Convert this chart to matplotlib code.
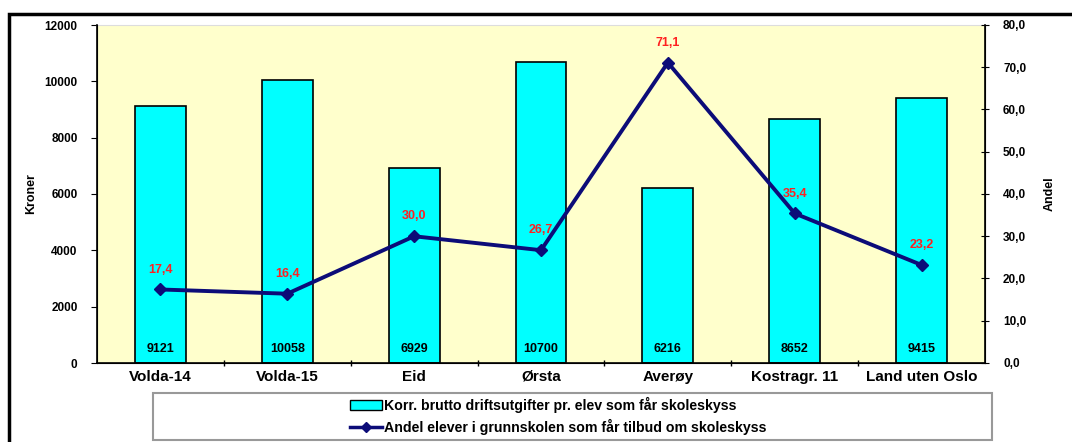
import matplotlib.pyplot as plt
from matplotlib.lines import Line2D
from matplotlib.patches import Patch, Rectangle

plt.rcParams["font.family"] = ["Liberation Sans", "DejaVu Sans"]
plt.rcParams["font.weight"] = "bold"

# data
categories = ["Volda-14", "Volda-15", "Eid", "Ørsta", "Averøy", "Kostragr. 11", "Land uten Oslo"]
kroner = [9121, 10058, 6929, 10700, 6216, 8652, 9415]
andel = [17.4, 16.4, 30.0, 26.7, 71.1, 35.4, 23.2]
left_ticks = [0, 2000, 4000, 6000, 8000, 10000, 12000]
right_ticks = [0, 10, 20, 30, 40, 50, 60, 70, 80]

bar_label = "Korr. brutto driftsutgifter pr. elev som får skoleskyss"
line_label = "Andel elever i grunnskolen som får tilbud om skoleskyss"

fig = plt.figure(figsize=(10.72, 4.42), dpi=100)
ax = fig.add_axes([97 / 1072, 1 - 363 / 442, (985 - 97) / 1072, (363 - 25) / 442])
ax.set_facecolor("#ffffcc")

x = list(range(len(categories)))
ax.bar(x, kroner, width=0.4, color="#00ffff", edgecolor="black", linewidth=1.2, zorder=2)
for xi, v in zip(x, kroner):
    ax.text(xi, 500, str(v), ha="center", va="center", fontsize=9, fontweight="bold", zorder=3)

ax.set_xlim(-0.5, len(categories) - 0.5)
ax.set_ylim(0, 12000)
ax.set_yticks(left_ticks)
ax.set_yticklabels([str(t) for t in left_ticks], fontsize=8.5, fontweight="bold")
ax.set_xticks(x)
ax.set_xticklabels(categories, fontsize=11, fontweight="bold")
ax.tick_params(axis="x", length=0, pad=5)
ax.set_xticks([i + 0.5 for i in x[:-1]], minor=True)
ax.tick_params(axis="x", which="minor", length=5, direction="inout", width=1)
ax.tick_params(axis="y", length=4, direction="out", width=0.8, pad=10)
ax.set_ylabel("Kroner", fontsize=9, fontweight="bold")
ax.yaxis.set_label_coords(-0.067, 0.5)
ax.spines["top"].set_color("#dddddd")
ax.spines["left"].set_linewidth(1.2)
ax.spines["bottom"].set_linewidth(1.2)

ax2 = ax.twinx()
ax2.plot(x, andel, color="#0c0c78", linewidth=2.8, marker="D", markersize=6, zorder=4)
for xi, v in zip(x, andel):
    ax2.annotate(f"{v:.1f}".replace(".", ","), (xi, v), xytext=(0, 10), textcoords="offset points",
                 ha="center", va="bottom", color="#ff2020", fontsize=9, fontweight="bold")
ax2.set_ylim(0, 80)
ax2.set_yticks(right_ticks)
ax2.set_yticklabels([f"{t:.1f}".replace(".", ",") for t in right_ticks], fontsize=8.5, fontweight="bold")
ax2.tick_params(axis="y", length=6, direction="inout", width=0.8, pad=10)
ax2.set_ylabel("Andel", fontsize=9, fontweight="bold")
ax2.yaxis.set_label_coords(1.0665, 0.5)
ax2.spines["right"].set_linewidth(1.2)
ax2.spines["top"].set_visible(False)

# legend box
fig.patches.append(Rectangle((153 / 1072, 2 / 442), (992 - 153) / 1072, (440 - 393) / 442,
                             transform=fig.transFigure, facecolor="white", edgecolor="#999999",
                             linewidth=1.5, zorder=0))
handles = [
    Patch(facecolor="#00ffff", edgecolor="black", linewidth=1),
    Line2D([0], [0], color="#0c0c78", linewidth=2.5, marker="D", markersize=5),
]
fig.legend(handles, [bar_label, line_label], loc="center",
           bbox_to_anchor=(558 / 1072, 1 - 416 / 442), frameon=False,
           handlelength=2.3, handletextpad=0.1, labelspacing=0.45, borderpad=0,
           prop={"weight": "bold", "size": 10.2})

# outer frame
fig.patches.append(Rectangle((9 / 1072, -0.1), 1.2, 1 - 14 / 442 + 0.1, transform=fig.transFigure,
                             facecolor="none", edgecolor="black", linewidth=2.5, zorder=10))

fig.savefig("out.png", dpi=100)
